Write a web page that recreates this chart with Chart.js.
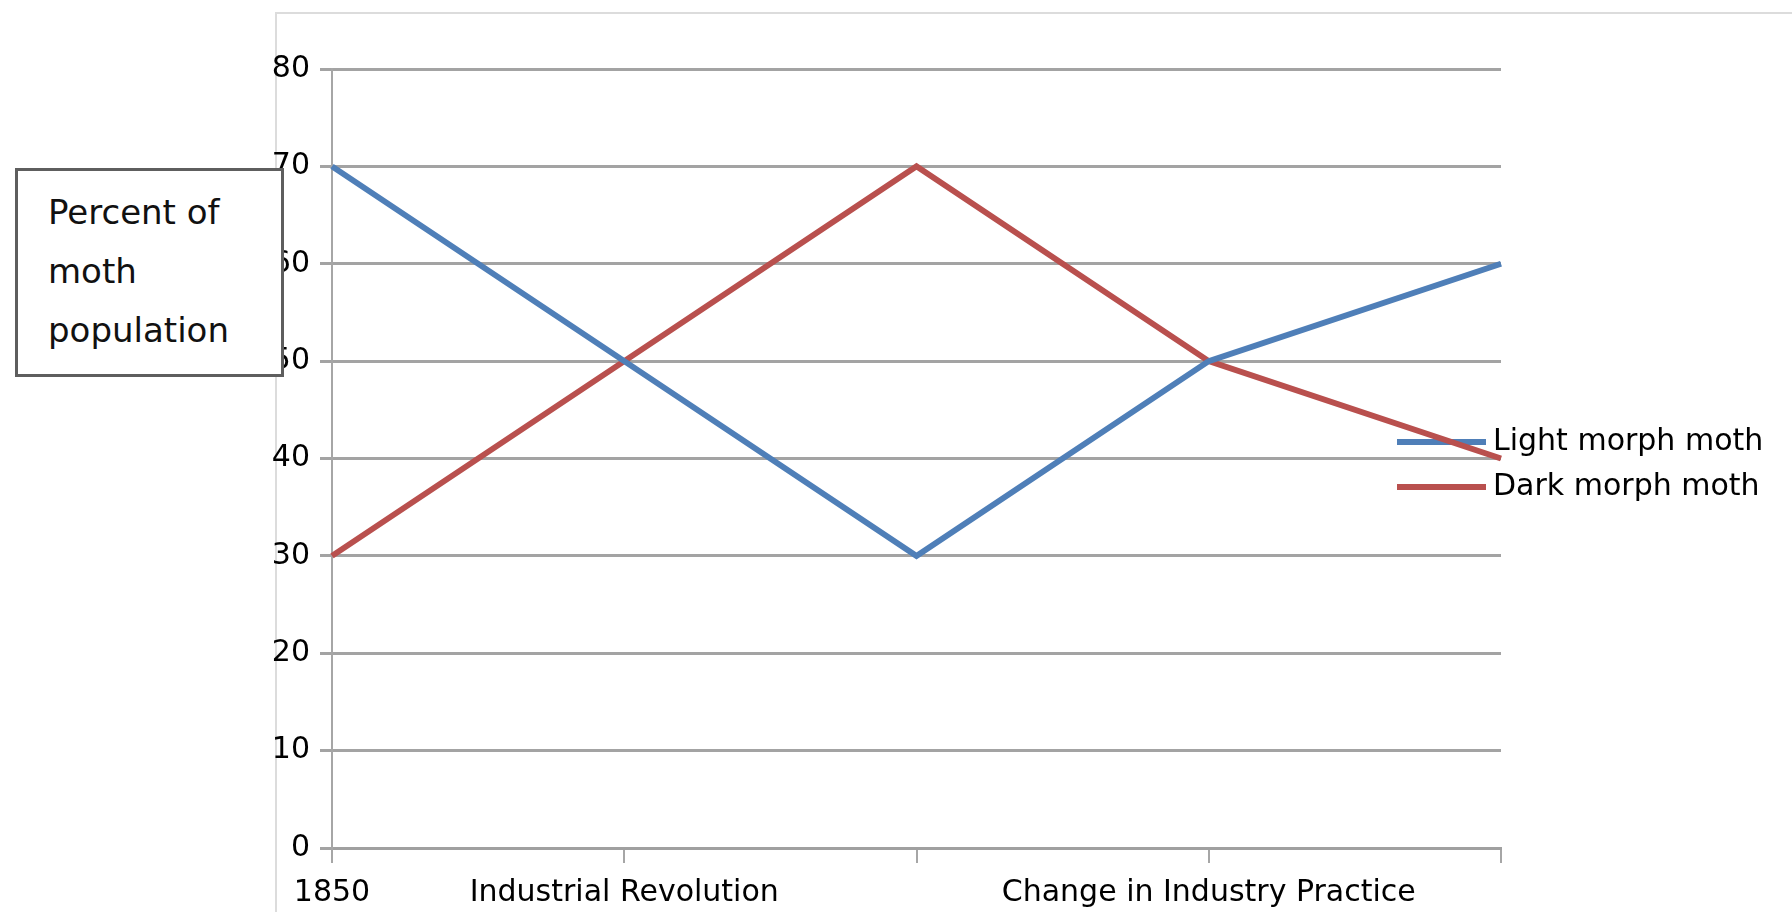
<!DOCTYPE html>
<html>
<head>
<meta charset="utf-8">
<script src="https://cdn.jsdelivr.net/npm/chart.js@4.4.0/dist/chart.umd.min.js"></script>
<style>
  html, body { margin: 0; padding: 0; background: #ffffff; }
  #wrap { position: relative; width: 1792px; height: 912px; overflow: hidden; background: #fff; }
  #frame { position: absolute; left: 275px; top: 12px; width: 1530px; height: 920px;
           border-top: 2px solid #dcdcdc; border-left: 2px solid #dcdcdc; }
  #chart { position: absolute; left: 0; top: 0; }
  #ylabel { position: absolute; left: 15px; top: 168px; width: 263px; height: 203px;
            border: 3px solid #5e5e5e; background: #fff;
            font-family: "DejaVu Sans", sans-serif; font-size: 34px; line-height: 59px; color: #111; }
  #ylabel div { position: absolute; left: 30px; top: 12px; }
</style>
</head>
<body>
<div id="wrap">
  <div id="frame"></div>
  <canvas id="chart" width="1792" height="912"></canvas>
  <div id="ylabel"><div>Percent of<br>moth<br>population</div></div>
</div>
<script>
const categories = ["1850", "Industrial Revolution", "", "Change in Industry Practice", ""];
const lightMorph = [70, 50, 30, 50, 60];
const darkMorph = [30, 50, 70, 50, 40];
const seriesNames = ["Light morph moth", "Dark morph moth"];
const seriesColors = ["#4f7fb8", "#b9504e"];
const yTicks = [0, 10, 20, 30, 40, 50, 60, 70, 80];

const FONT = "DejaVu Sans";

const legendPlugin = {
  id: 'sideLegend',
  beforeDatasetsDraw(chart) {
    const ctx = chart.ctx;
    const a = chart.chartArea;
    ctx.save();
    ctx.font = '30px "' + FONT + '"';
    ctx.textBaseline = 'middle';
    ctx.textAlign = 'left';
    chart.data.datasets.forEach((ds, i) => {
      const y = a.top + 373 + i * 45;
      ctx.strokeStyle = ds.borderColor;
      ctx.lineWidth = 6;
      ctx.beginPath();
      ctx.moveTo(a.right - 104, y);
      ctx.lineTo(a.right - 15, y);
      ctx.stroke();
      ctx.fillStyle = '#000';
      ctx.fillText(ds.label, a.right - 8, y);
    });
    ctx.restore();
  }
};

new Chart(document.getElementById('chart'), {
  type: 'line',
  data: {
    labels: categories,
    datasets: [
      { label: seriesNames[0], data: lightMorph, borderColor: seriesColors[0], backgroundColor: seriesColors[0],
        borderWidth: 6, pointRadius: 0, tension: 0, fill: false },
      { label: seriesNames[1], data: darkMorph, borderColor: seriesColors[1], backgroundColor: seriesColors[1],
        borderWidth: 6, pointRadius: 0, tension: 0, fill: false }
    ]
  },
  options: {
    responsive: false,
    animation: false,
    layout: { padding: { top: 69, right: 291, left: 0, bottom: 0 } },
    plugins: { legend: { display: false }, title: { display: false }, tooltip: { enabled: false } },
    scales: {
      x: {
        type: 'category',
        offset: false,
        afterFit(s) { s.height = 64; },
        grid: { drawOnChartArea: false, drawTicks: true, tickLength: 15, color: '#a6a6a6', lineWidth: 2 },
        border: { display: true, color: '#a0a0a0', width: 3 },
        ticks: { color: '#000', font: { family: FONT, size: 30 }, padding: 12, maxRotation: 0, autoSkip: false }
      },
      y: {
        min: 0, max: 80,
        afterFit(s) { s.width = 332; },
        afterBuildTicks(s) { s.ticks = yTicks.map(v => ({ value: v })); },
        grid: { color: '#a3a3a3', lineWidth: 3, tickLength: 12, drawTicks: true },
        border: { display: true, color: '#a6a6a6', width: 2 },
        ticks: { color: '#000', font: { family: FONT, size: 30 }, padding: 10 }
      }
    }
  },
  plugins: [legendPlugin]
});
</script>
</body>
</html>
